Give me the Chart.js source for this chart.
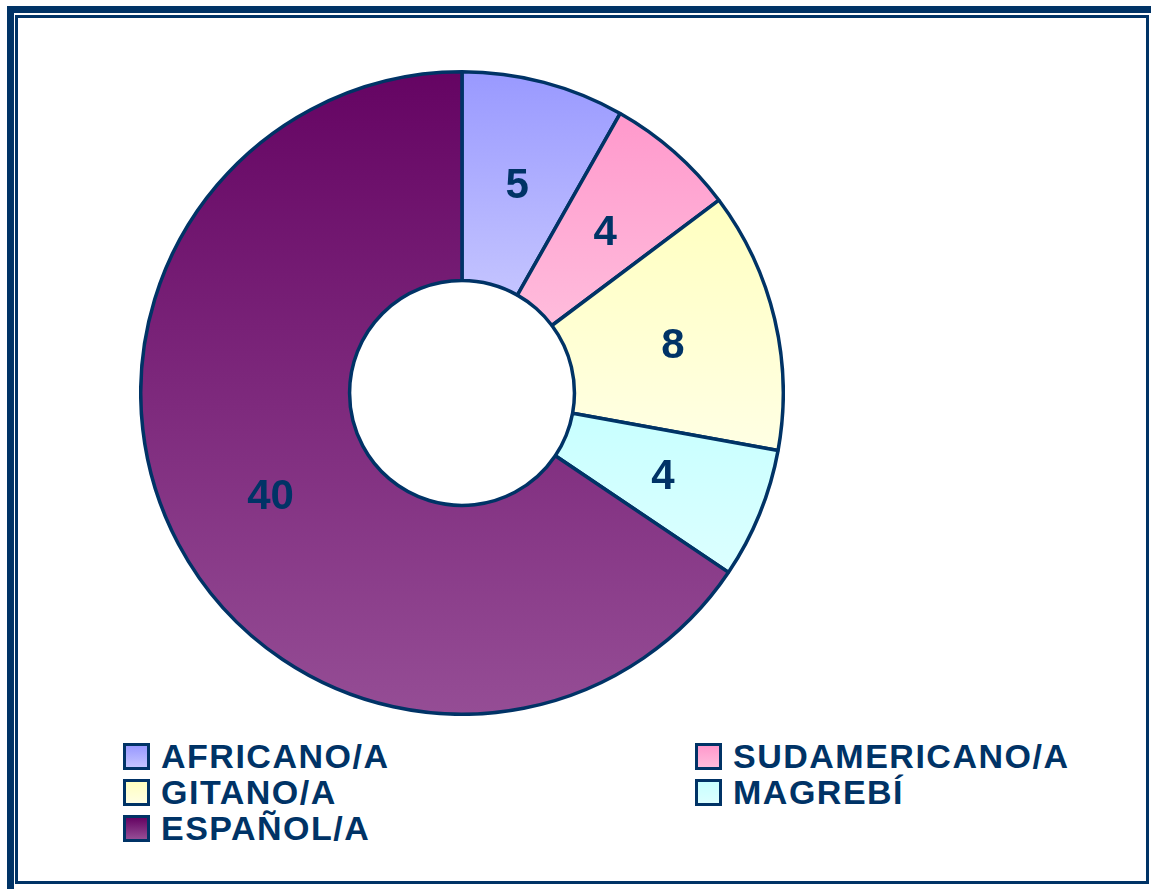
<!DOCTYPE html>
<html>
<head>
<meta charset="utf-8">
<script src="https://cdn.jsdelivr.net/npm/chart.js@4"></script>
<style>
  html, body { margin: 0; padding: 0; background: #fff; overflow: hidden; }
  body { width: 1151px; height: 889px; position: relative; font-family: "Liberation Sans", Arial, sans-serif; }
  .frame-outer { position: absolute; left: 7px; top: 6px; width: 1160px; height: 890px; border: 7px solid #003366; box-sizing: border-box; }
  .frame-inner { position: absolute; left: 15px; top: 15px; width: 1134px; height: 869px; border: 3px solid #003366; box-sizing: border-box; }
  #chartBox { position: absolute; left: 139px; top: 70px; width: 646px; height: 646px; }
  .legend-item { position: absolute; height: 30px; display: flex; align-items: center; }
  .legend-box { width: 27px; height: 27px; border: 3px solid #003366; box-sizing: border-box; }
  .legend-text { margin-left: 11px; font-weight: bold; font-size: 34px; letter-spacing: 1.5px; color: #003366; line-height: 30px; white-space: nowrap; }
</style>
</head>
<body>
<div class="frame-outer"></div>
<div class="frame-inner"></div>
<div id="chartBox"><canvas id="chart"></canvas></div>
<div id="legend"></div>
<script>
  // ── data ──
  const labels = ['AFRICANO/A', 'SUDAMERICANO/A', 'GITANO/A', 'MAGREBÍ', 'ESPAÑOL/A'];
  const values = [5, 4, 8, 4, 40];
  const topColors = ['#9999ff', '#ff99cc', '#ffffc0', '#c8ffff', '#650463'];
  const bottomColors = ['#c4c4ff', '#ffbcdc', '#ffffe4', '#dcffff', '#954d95'];

  const total = values.reduce((a, b) => a + b, 0);
  const CUTOUT = 0.35;
  const BORDER = 3.5;

  // vertical gradient per slice, spanning that slice's own height
  function sliceGradient(ctx) {
    const i = ctx.dataIndex;
    const chart = ctx.chart;
    const area = chart.chartArea;
    if (!area) return topColors[i];
    const cy = (area.top + area.bottom) / 2;
    const R = (Math.min(area.width, area.height) - BORDER) / 2;
    const r = R * CUTOUT;
    const before = values.slice(0, i).reduce((a, b) => a + b, 0);
    const start = -Math.PI / 2 + before / total * Math.PI * 2;
    const end = start + values[i] / total * Math.PI * 2;
    const ys = [Math.sin(start) * R, Math.sin(start) * r, Math.sin(end) * R, Math.sin(end) * r];
    if (start <= -Math.PI / 2 + 1e-6 || end >= Math.PI * 1.5 - 1e-6) ys.push(-R);
    if (start <= Math.PI / 2 && end >= Math.PI / 2) ys.push(R);
    const y0 = cy + Math.min(...ys), y1 = cy + Math.max(...ys);
    const g = chart.ctx.createLinearGradient(0, y0, 0, y1);
    g.addColorStop(0, topColors[i]);
    g.addColorStop(1, bottomColors[i]);
    return g;
  }

  const valueLabels = {
    id: 'valueLabels',
    afterDatasetsDraw(chart) {
      const c = chart.ctx;
      const meta = chart.getDatasetMeta(0);
      c.save();
      c.font = 'bold 42px "Liberation Sans", Arial, sans-serif';
      c.fillStyle = '#003366';
      c.textAlign = 'center';
      c.textBaseline = 'middle';
      meta.data.forEach((arc, i) => {
        const p = arc.tooltipPosition();
        c.fillText(String(values[i]), p.x, p.y + 3);
      });
      c.restore();
    }
  };

  new Chart(document.getElementById('chart').getContext('2d'), {
    type: 'doughnut',
    data: {
      labels: labels,
      datasets: [{
        data: values,
        backgroundColor: sliceGradient,
        borderColor: '#003366',
        borderWidth: BORDER,
      }],
    },
    options: {
      responsive: true,
      maintainAspectRatio: false,
      animation: false,
      cutout: (CUTOUT * 100) + '%',
      layout: { padding: 0 },
      plugins: {
        legend: { display: false },
        tooltip: { enabled: false },
      },
    },
    plugins: [valueLabels],
  });

  // ── legend (two columns, row-major) ──
  const legendCols = [123, 695];
  const legendRows = [741, 777, 813];
  const legend = document.getElementById('legend');
  labels.forEach((name, i) => {
    const item = document.createElement('div');
    item.className = 'legend-item';
    item.style.left = legendCols[i % 2] + 'px';
    item.style.top = legendRows[Math.floor(i / 2)] + 'px';
    const box = document.createElement('div');
    box.className = 'legend-box';
    box.style.background = `linear-gradient(${topColors[i]}, ${bottomColors[i]})`;
    const txt = document.createElement('span');
    txt.className = 'legend-text';
    txt.textContent = name;
    item.appendChild(box);
    item.appendChild(txt);
    legend.appendChild(item);
  });
</script>
</body>
</html>
